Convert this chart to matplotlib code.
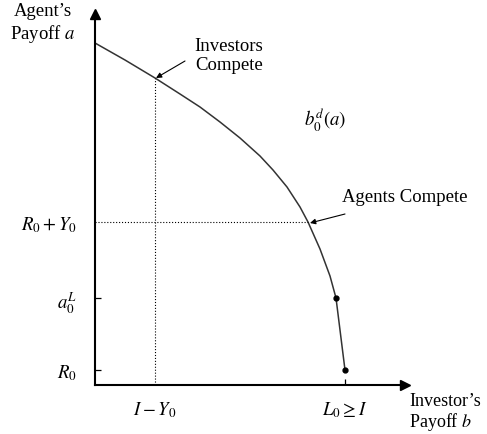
import matplotlib
matplotlib.use("Agg")
import matplotlib.pyplot as plt

plt.rcParams['font.family'] = 'serif'
plt.rcParams['font.serif'] = ['Liberation Serif', 'DejaVu Serif']
plt.rcParams['mathtext.fontset'] = 'stix'

# frontier b_0^d(a) (investor payoff b, agent payoff a)
curve_b = [0, 30, 60, 85, 105, 125, 145, 165, 178, 192, 205, 213, 225, 235, 241, 250]
curve_a = [342, 325, 307, 291, 278, 263, 247, 229, 215, 198, 178, 163, 136, 109, 87, 15]

# marked points on the frontier
dots_b = [241, 250]
dots_a = [87, 15]

# axis levels
R0 = 15
a0L = 87
R0_Y0 = 163
I_Y0 = 60
L0 = 250

ytick_vals = [R0, a0L, R0_Y0]
ytick_labels = ['$R_0$', '$a_0^L$', '$R_0 + Y_0$']
xtick_vals = [I_Y0, L0]
xtick_labels = ['$I - Y_0$', '$L_0 \\geq I$']

W, H = 487, 435
fig = plt.figure(figsize=(W / 100, H / 100), dpi=100)
ax = fig.add_axes([95 / W, (H - 386) / H, 310 / W, 371 / H])
ax.set_xlim(0, 310)
ax.set_ylim(0, 371)

for s in ['top', 'right']:
    ax.spines[s].set_visible(False)
for s in ['left', 'bottom']:
    ax.spines[s].set_linewidth(1.5)

# arrow heads on the axes
ax.plot(1, 0, marker='>', color='black', markersize=7, transform=ax.transAxes, clip_on=False)
ax.plot(0, 1, marker='^', color='black', markersize=7, transform=ax.transAxes, clip_on=False)

ax.set_yticks(ytick_vals)
ax.set_yticklabels(ytick_labels)
ax.set_xticks(xtick_vals)
ax.set_xticklabels(xtick_labels)
ax.tick_params(direction='in', length=4, width=0.9, labelsize=13.5)
ax.tick_params(axis='y', pad=13)
ax.tick_params(axis='x', pad=10)
ax.yaxis.get_major_ticks()[2].tick1line.set_visible(False)
ax.xaxis.get_major_ticks()[0].tick1line.set_visible(False)

# frontier
ax.plot(curve_b, curve_a, color='#333333', lw=1.1, clip_on=False)
ax.plot(dots_b, dots_a, 'o', color='black', markersize=3.5, clip_on=False)

# dotted guide lines
ax.plot([I_Y0, I_Y0], [0, curve_a[2]], color='black', lw=0.8, ls=':')
ax.plot([0, 213], [R0_Y0, R0_Y0], color='black', lw=0.8, ls=':')

# labels
ax.text(-52, 362, 'Agent\u2019s\nPayoff $a$', ha='center', va='center',
        fontsize=13.5, linespacing=1.2)
ax.text(314, -27, 'Investor\u2019s\nPayoff $b$', ha='left', va='center',
        fontsize=13, linespacing=1.1)
ax.text(134, 330, 'Investors\nCompete', ha='center', va='center',
        fontsize=13.5, linespacing=1.2)
ax.text(247, 188, 'Agents Compete', ha='left', va='center', fontsize=13.5)
ax.text(230, 266, '$b_0^d(a)$', ha='center', va='center', fontsize=13.5)

arrow = dict(arrowstyle='-|>', color='black', lw=0.8, mutation_scale=8,
             shrinkA=0, shrinkB=0)
ax.annotate('', xy=(61, 307), xytext=(90, 324), arrowprops=arrow)
ax.annotate('', xy=(215, 162), xytext=(250, 171), arrowprops=arrow)

fig.savefig('out.png', dpi=100)
